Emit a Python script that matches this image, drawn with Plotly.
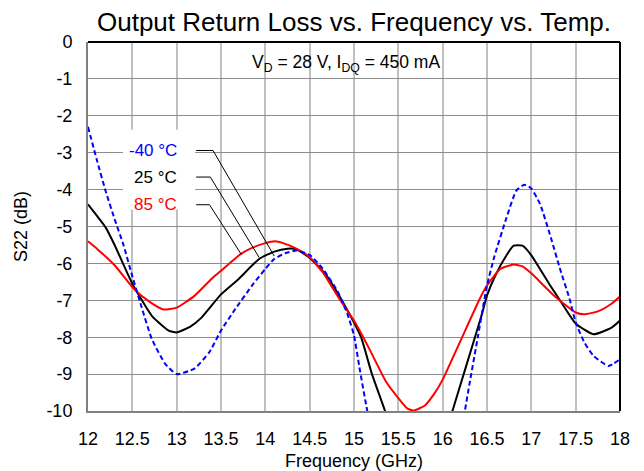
import plotly.graph_objects as go

# ---- data ----
freq_m40 = [12.0, 12.1, 12.2, 12.3, 12.4, 12.5, 12.6, 12.72, 12.87, 13.0, 13.2, 13.37, 13.5, 13.66,
            13.85, 14.0, 14.1, 14.22, 14.35, 14.5, 14.65, 14.82, 14.93, 15.0, 15.06, 15.15, 15.3,
            15.5, 15.7, 15.9, 16.1, 16.25, 16.3, 16.4, 16.5, 16.58, 16.72, 16.83, 16.92, 17.0,
            17.1, 17.22, 17.33, 17.43, 17.5, 17.6, 17.7, 17.87, 18.0]
s22_m40 = [-2.3, -3.2, -4.05, -4.8, -5.5, -6.35, -7.15, -8.05, -8.72, -9.0, -8.85, -8.4, -7.82, -7.24,
           -6.6, -6.15, -5.88, -5.73, -5.65, -5.77, -6.15, -6.78, -7.4, -7.95, -8.8, -10.0, -11.6,
           -13.0, -13.5, -13.0, -11.8, -10.0, -9.3, -7.95, -6.6, -5.84, -4.76, -4.03, -3.87, -3.97,
           -4.4, -5.3, -6.2, -6.95, -7.6, -8.15, -8.5, -8.78, -8.6]

freq_25 = [12.0, 12.2, 12.3, 12.5, 12.72, 12.91, 13.0, 13.15, 13.28, 13.5, 13.7, 13.93, 14.1, 14.25,
           14.35, 14.5, 14.69, 14.88, 15.0, 15.08, 15.2, 15.35, 15.5, 15.75, 16.0, 16.11, 16.25,
           16.44, 16.5, 16.6, 16.72, 16.8, 16.9, 17.0, 17.2, 17.35, 17.5, 17.7, 17.9, 18.0]
s22_25 = [-4.4, -5.03, -5.5, -6.55, -7.42, -7.82, -7.87, -7.72, -7.47, -6.84, -6.42, -5.88, -5.68, -5.6,
          -5.62, -5.85, -6.33, -7.07, -7.6, -8.0, -8.98, -10.0, -11.1, -11.9, -10.9, -10.0, -8.9,
          -7.4, -6.87, -6.3, -5.78, -5.52, -5.52, -5.78, -6.55, -7.1, -7.63, -7.92, -7.75, -7.55]

freq_85 = [12.0, 12.1, 12.3, 12.53, 12.7, 12.85, 13.0, 13.2, 13.41, 13.5, 13.72, 13.85, 14.0, 14.11,
           14.2, 14.35, 14.5, 14.65, 14.84, 15.0, 15.18, 15.36, 15.5, 15.6, 15.67, 15.8, 15.9, 16.0,
           16.21, 16.42, 16.5, 16.65, 16.8, 16.9, 17.0, 17.25, 17.5, 17.6, 17.75, 17.9, 18.0]
s22_85 = [-5.4, -5.6, -6.05, -6.72, -7.05, -7.25, -7.2, -6.88, -6.38, -6.2, -5.75, -5.58, -5.45, -5.4,
          -5.45, -5.6, -5.83, -6.25, -6.98, -7.55, -8.35, -9.2, -9.65, -9.93, -9.99, -9.85, -9.55, -9.15,
          -8.05, -6.95, -6.6, -6.15, -6.03, -6.08, -6.27, -6.86, -7.33, -7.38, -7.3, -7.1, -6.9]

x_ticks = [12, 12.5, 13, 13.5, 14, 14.5, 15, 15.5, 16, 16.5, 17, 17.5, 18]
x_tick_text = ["12", "12.5", "13", "13.5", "14", "14.5", "15", "15.5", "16", "16.5", "17", "17.5", "18"]
y_ticks = [0, -1, -2, -3, -4, -5, -6, -7, -8, -9, -10]
y_tick_text = ["0", "-1", "-2", "-3", "-4", "-5", "-6", "-7", "-8", "-9", "-10"]

labels = ["-40 °C", "25 °C", "85 °C"]
label_colors = ["#0000ff", "#000000", "#ff0000"]
label_y = [-2.94, -3.66, -4.41]
label_x = 13.03
# leader lines: start of horizontal stub, end of stub, point on curve
leader_x = [[13.22, 13.41, 14.10], [13.22, 13.38, 13.93], [13.22, 13.37, 13.73]]
leader_y_end = [-5.80, -5.84, -5.76]

FONT = "Liberation Sans, Arial, sans-serif"

fig = go.Figure()
fig.add_trace(go.Scatter(x=freq_25, y=s22_25, mode="lines",
                         line=dict(color="#000000", width=2, shape="spline", smoothing=0.5),
                         showlegend=False))
fig.add_trace(go.Scatter(x=freq_85, y=s22_85, mode="lines",
                         line=dict(color="#ff0000", width=2, shape="spline", smoothing=0.5),
                         showlegend=False))
fig.add_trace(go.Scatter(x=freq_m40, y=s22_m40, mode="lines",
                         line=dict(color="#0000ff", width=2, dash="5px,3px", shape="spline", smoothing=0.5),
                         showlegend=False))

shapes = []
# white box behind the labels (hides gridlines)
shapes.append(dict(type="rect", xref="x", yref="y", x0=12.395, x1=13.209, y0=-4.54, y1=-2.38,
                   fillcolor="white", line=dict(width=0), layer="between"))
for lx, ly, ye in zip(leader_x, label_y, leader_y_end):
    path = f"M {lx[0]},{ly} L {lx[1]},{ly} L {lx[2]},{ye}"
    shapes.append(dict(type="path", xref="x", yref="y", path=path,
                       line=dict(color="black", width=1)))
# top and right borders (black)
shapes.append(dict(type="line", xref="paper", yref="paper", x0=0, x1=1, y0=1, y1=1,
                   line=dict(color="black", width=2)))
shapes.append(dict(type="line", xref="paper", yref="paper", x0=1, x1=1, y0=0, y1=1,
                   line=dict(color="black", width=2)))

annotations = []
for t, c, ly in zip(labels, label_colors, label_y):
    annotations.append(dict(x=label_x, y=ly, xref="x", yref="y", text=t, showarrow=False,
                            xanchor="right", yanchor="middle", font=dict(size=17, color=c, family=FONT)))
annotations.append(dict(x=0.485, y=-0.57, xref="paper", yref="y",
                        text="V<sub>D</sub> = 28 V, I<sub>DQ</sub> = 450 mA", showarrow=False,
                        xanchor="center", yanchor="middle", font=dict(size=17.5, color="black", family=FONT)))

# page body has an 8px margin, so the figure is sized/offset to compensate
W, H = 636, 463
fig.update_layout(
    width=W, height=H,
    margin=dict(l=80, r=24, t=34, b=60, autoexpand=False),
    paper_bgcolor="white", plot_bgcolor="white",
    font=dict(family=FONT, color="black"),
    title=dict(text="Output Return Loss vs. Frequency vs. Temp.", x=0.5, xref="paper",
               y=1 - 14 / H, yref="container", xanchor="center", yanchor="middle",
               font=dict(size=26, color="black", family=FONT)),
    shapes=shapes, annotations=annotations,
)
fig.update_xaxes(range=[12, 18], tickvals=x_ticks, ticktext=x_tick_text, automargin=False,
                 showgrid=True, gridcolor="#c0c0c0", gridwidth=1.5,
                 showline=True, linecolor="#808080", linewidth=2,
                 ticks="", ticklabelstandoff=10, zeroline=False,
                 tickfont=dict(size=18, family=FONT, color="black"),
                 title=dict(text="Frequency (GHz)", font=dict(size=18, family=FONT, color="black"), standoff=10))
fig.update_yaxes(range=[-10, 0], tickvals=y_ticks, ticktext=y_tick_text, automargin=False,
                 showgrid=True, gridcolor="#8c8c8c", gridwidth=1,
                 showline=True, linecolor="#808080", linewidth=2,
                 ticks="", ticklabelstandoff=10, zeroline=False,
                 tickfont=dict(size=18, family=FONT, color="black"),
                 title=dict(text="S22 (dB)", font=dict(size=18, family=FONT, color="black"), standoff=14))

fig.write_html("out.html")
